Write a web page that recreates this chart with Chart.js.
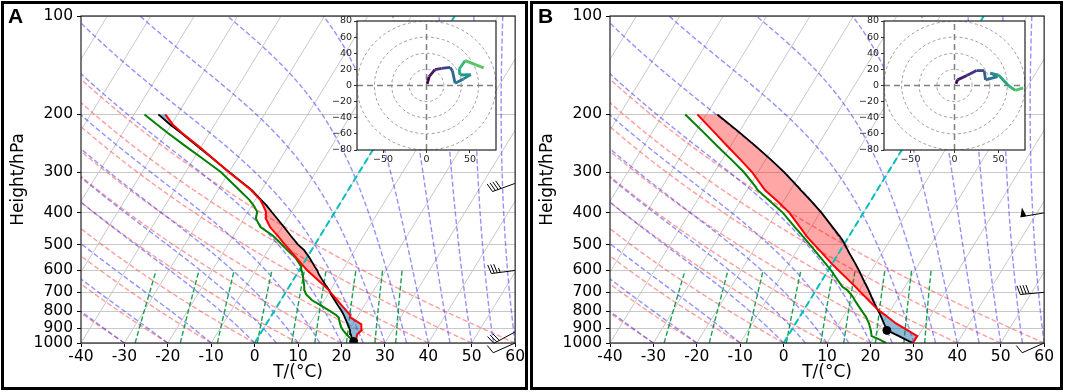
<!DOCTYPE html>
<html lang="en">
<head>
<meta charset="UTF-8">
<title>Skew-T log-P</title>
<style>
  body { margin: 0; background: #fff; }
  #wrap { position: relative; width: 1065px; height: 392px; overflow: hidden; }
  #wrap canvas { position: absolute; }
  .frame { position: absolute; top: 1px; height: 383px; border: 3px solid #000; pointer-events: none; }
  .tag { position: absolute; top: 5px; font: bold 21px/21px "Liberation Sans", Arial, sans-serif; color: #000; }
</style>
</head>
<body>
<div id="wrap">
  <canvas id="skewA" width="527" height="392" style="left:0;top:0"></canvas>
  <canvas id="skewB" width="527" height="392" style="left:529px;top:0"></canvas>
  <canvas id="hodoA" width="184" height="160" style="left:317px;top:10px"></canvas>
  <canvas id="hodoB" width="186" height="160" style="left:844px;top:10px"></canvas>
  <div class="frame" style="left:1px;width:521px"></div>
  <div class="frame" style="left:530px;width:527px"></div>
  <div class="tag" style="left:8px">A</div>
  <div class="tag" style="left:538px">B</div>
</div>

<script src="https://cdn.jsdelivr.net/npm/chart.js"></script>
<script>
// ---- sounding A (hPa, °C) ----
const presA = [1000, 970, 940, 915, 895, 877, 856, 836, 822, 800, 770, 740, 710, 689, 670, 640, 615, 600, 583, 550, 520, 500, 470, 442, 416, 397, 380, 365, 340, 300, 270, 250, 228, 215, 200];
const tempA = [23.4, 22.8, 22.4, 22.8, 22.4, 21.9, 20.2, 18.5, 18.1, 16.8, 14.9, 13.0, 11.0, 9.6, 8.1, 5.5, 3.3, 1.9, 0.5, -2.3, -5.0, -6.9, -9.8, -12.8, -15.0, -15.9, -17.4, -18.9, -22.5, -30.1, -36.2, -40.7, -46.3, -49.6, -52.8];
const dewA = [22.45, 21.5, 19.9, 18.6, 17.7, 17.1, 16.4, 15.8, 14.9, 13.0, 10.2, 7.2, 5.0, 4.0, 3.4, 2.3, 1.3, 0.6, -0.1, -2.5, -5.6, -7.6, -10.9, -15.0, -17.3, -17.9, -19.6, -21.4, -25.2, -31.9, -38.7, -43.7, -49.6, -53.2, -57.6];
const parcelA = [22.8, 21.8, 20.9, 20.2, 19.5, 18.8, 18.0, 17.2, 16.6, 15.6, 14.0, 12.4, 10.7, 9.7, 8.5, 6.6, 5.0, 4.2, 3.0, 0.7, -1.7, -3.9, -6.8, -9.6, -12.4, -14.6, -16.6, -18.7, -22.3, -30.0, -36.3, -41.0, -46.5, -50.2, -54.4];
const lclPresA = [990];
const lclTempA = [22.6];

// ---- sounding B ----
const presB = [1000, 975, 953, 915, 870, 830, 802, 785, 750, 720, 689, 673, 640, 598, 573, 530, 484, 471, 440, 400, 370, 341, 332, 300, 275, 251, 225, 200];
const tempB = [29.7, 29.75, 29.8, 26.8, 23.0, 20.1, 17.9, 16.6, 14.2, 12.1, 9.8, 8.6, 5.9, 2.25, -0.05, -3.9, -8.5, -9.8, -12.8, -17.0, -21.2, -25.8, -27.0, -31.4, -35.8, -40.5, -46.1, -52.1];
const dewB = [23.6, 21.5, 19.3, 18.3, 16.85, 15.2, 13.7, 12.8, 10.9, 9.3, 7.2, 5.6, 3.45, 0.55, -1.45, -5.1, -9.4, -10.7, -14.0, -18.5, -22.9, -27.5, -28.6, -33.3, -37.9, -42.8, -48.6, -54.9];
const parcelB = [29.7, 27.5, 25.6, 22.0, 20.3, 18.7, 17.5, 16.6, 15.0, 13.6, 12.1, 11.25, 9.4, 7.0, 5.4, 2.4, -1.0, -2.2, -5.3, -9.6, -13.4, -17.6, -18.9, -24.0, -28.8, -34.0, -40.4, -47.5];
const lclPresB = [915];
const lclTempB = [22.0];

// ---- wind barbs (knots) ----
const barbPresA = [1000, 925, 600, 325];
const barbUA = [9, 26, 35, 38];
const barbVA = [4, 14, 4.5, 13.7];
const barbPresB = [1000, 700, 400];
const barbUB = [9, 40, 50];
const barbVB = [4, 3.6, 8.5];

// ---- hodographs ----
const hodoUA = [0.8, 3, 9.7, 17.4, 27, 29.8, 32.9, 42.6, 51, 38.7, 37.6, 44.5, 65.8];
const hodoVA = [2.1, 11, 19.7, 21.3, 22.5, 18.5, 2.8, 8.2, 13.5, 13, 20.5, 30.8, 21.8];
const hodoUB = [1.6, 3.4, 14, 25, 33.7, 35.2, 48.8, 40.6, 50, 61, 69, 78];
const hodoVB = [2.1, 7, 12.3, 18.5, 18.5, 7, 11.1, 15.5, 13, 0, -6, -3];

// ---- axes / reference lines ----
const tempTicks = [-40, -30, -20, -10, 0, 10, 20, 30, 40, 50, 60];
const presTicks = [100, 200, 300, 400, 500, 600, 700, 800, 900, 1000];
const hodoTicksX = [-50, 0, 50];
const hodoTicksY = [-80, -60, -40, -20, 0, 20, 40, 60, 80];
const hodoRings = [20, 40, 60, 80];
const isoStart = [-80, -70, -60, -50, -40, -30, -20, -10, 0, 10, 20, 30, 40, 50, 60];
const dryStart = [-40, -30, -20, -10, 0, 10, 20, 30, 40, 50, 60];
const moistStart = [-40, -30, -20, -10, 0, 5, 10, 15, 20, 25, 30, 35, 40, 45, 50, 55, 60];
const mixRatios = [0.0004, 0.001, 0.002, 0.004, 0.007, 0.01, 0.016, 0.024, 0.032];

const RD = 287.04749, CP = 1004.6662, LV = 2.50084e6, EPS = 0.62196, KAPPA = RD / CP;
const SKEW = 46.1; // x shift (°C) per decade of pressure
const skew = (t, p) => t + SKEW * Math.log10(1000 / p);
const pt = (t, p) => ({ x: skew(t, p), y: p });

function satVap(tc) { return 6.112 * Math.exp(17.67 * tc / (tc + 243.5)); }

function dryAdiabat(t0) {
  const pts = [];
  for (let p = 1000; p >= 100; p -= 10) pts.push(pt((t0 + 273.15) * Math.pow(p / 1000, KAPPA) - 273.15, p));
  return pts;
}
function moistGrad(tk, p) {
  const es = satVap(tk - 273.15);
  const rs = EPS * es / (p - es);
  return (RD * tk + LV * rs) / (CP + LV * LV * rs * EPS / (RD * tk * tk)) / p;
}
function moistAdiabat(t0) {
  const pts = [], h = -5;
  let tk = t0 + 273.15;
  for (let p = 1000; p >= 100; p += h) {
    pts.push(pt(tk - 273.15, p));
    const k1 = moistGrad(tk, p), k2 = moistGrad(tk + h * k1 / 2, p + h / 2);
    const k3 = moistGrad(tk + h * k2 / 2, p + h / 2), k4 = moistGrad(tk + h * k3, p + h);
    tk += h * (k1 + 2 * k2 + 2 * k3 + k4) / 6;
  }
  return pts;
}
function mixingLine(w) {
  const pts = [];
  for (let p = 1000; p >= 600; p -= 20) {
    const l = Math.log(w * p / (EPS + w) / 6.112);
    pts.push(pt(243.5 * l / (17.67 - l), p));
  }
  return pts;
}

function line(data, color, width, dash, order) {
  return { data, showLine: true, borderColor: color, borderWidth: width, borderDash: dash, pointRadius: 0, fill: false, order };
}

// CAPE / CIN polygons between parcel and environment
function shadeSets(pres, temp, parcel) {
  const out = [];
  let up = [], down = [], sign = 0;
  const close = () => { if (up.length > 1) out.push({ sign, data: up.concat(down.slice().reverse()) }); };
  for (let i = 0; i < pres.length; i++) {
    const d = parcel[i] - temp[i];
    if (i > 0) {
      const d0 = parcel[i - 1] - temp[i - 1];
      if (d0 * d < 0) {
        const f = d0 / (d0 - d);
        const pc = Math.exp(Math.log(pres[i - 1]) + f * (Math.log(pres[i]) - Math.log(pres[i - 1])));
        const tc = temp[i - 1] + f * (temp[i] - temp[i - 1]);
        up.push(pt(tc, pc)); down.push(pt(tc, pc));
        close();
        up = [pt(tc, pc)]; down = [pt(tc, pc)];
      }
    }
    if (d !== 0) sign = d > 0 ? 1 : -1;
    up.push(pt(parcel[i], pres[i])); down.push(pt(temp[i], pres[i]));
    if (d === 0 && i > 0) { close(); up = [pt(temp[i], pres[i])]; down = [pt(temp[i], pres[i])]; }
  }
  close();
  return out;
}

function skewDatasets(pres, temp, dew, parcel, lclP, lclT) {
  const ds = [];
  ds.push({ data: lclP.map((p, i) => pt(lclT[i], p)), pointRadius: 4, pointBackgroundColor: '#000', pointBorderColor: '#000', order: 0 });
  ds.push(line(pres.map((p, i) => pt(temp[i], p)), '#ff0000', 2, [], 1));
  ds.push(line(pres.map((p, i) => pt(dew[i], p)), '#008000', 2, [], 1));
  ds.push(line(pres.map((p, i) => pt(parcel[i], p)), '#000000', 1.8, [], 1));
  shadeSets(pres, temp, parcel).forEach(s => ds.push({
    data: s.data, showLine: true, pointRadius: 0, borderWidth: 0, fill: 'shape',
    backgroundColor: s.sign > 0 ? 'rgba(255,0,0,0.35)' : 'rgba(31,119,180,0.5)', order: 4
  }));
  ds.push(line([pt(0, 1000), pt(0, 100)], '#00bfbf', 2, [7, 3.5], 3));
  mixRatios.forEach(w => ds.push(line(mixingLine(w), 'rgba(0,150,60,0.9)', 1.4, [5, 2.5], 6)));
  moistStart.forEach(t => ds.push(line(moistAdiabat(t), 'rgba(40,40,255,0.5)', 1.4, [5, 2.5], 7)));
  dryStart.forEach(t => ds.push(line(dryAdiabat(t), 'rgba(255,40,40,0.45)', 1.4, [5, 2.5], 8)));
  isoStart.forEach(t => ds.push(line([pt(t, 1000), pt(t, 100)], '#c8c8c8', 1, [], 9)));
  return ds;
}

const framePlugin = {
  id: 'frame',
  afterDraw(chart) {
    const { ctx, chartArea: a } = chart;
    ctx.save();
    ctx.strokeStyle = '#222';
    ctx.lineWidth = 1.2;
    ctx.strokeRect(a.left, a.top, a.right - a.left, a.bottom - a.top);
    ctx.restore();
  }
};

const barbPlugin = {
  id: 'barbs',
  afterDatasetsDraw(chart, args, o) {
    const { ctx, chartArea, scales } = chart;
    ctx.save();
    ctx.strokeStyle = '#000'; ctx.fillStyle = '#000'; ctx.lineWidth = 1;
    o.pres.forEach((p, i) => {
      const u = o.u[i], v = o.v[i], spd = Math.hypot(u, v);
      const x0 = chartArea.right, y0 = scales.y.getPixelForValue(p);
      const dx = -u / spd, dy = v / spd, nx = -dy, ny = dx;
      const L = 24, F = 9;
      const at = s => [x0 + dx * (L - s), y0 + dy * (L - s)];
      const tip = at(0);
      ctx.beginPath(); ctx.moveTo(x0, y0); ctx.lineTo(tip[0], tip[1]); ctx.stroke();
      let k = Math.round(spd / 5) * 5, pos = 0;
      const flags = Math.floor(k / 50); k -= flags * 50;
      const full = Math.floor(k / 10); k -= full * 10;
      for (let j = 0; j < flags; j++) {
        const a = at(pos), b = at(pos + 6);
        ctx.beginPath(); ctx.moveTo(a[0], a[1]);
        ctx.lineTo((a[0] + b[0]) / 2 + nx * F, (a[1] + b[1]) / 2 + ny * F);
        ctx.lineTo(b[0], b[1]); ctx.closePath(); ctx.fill();
        pos += 7;
      }
      for (let j = 0; j < full; j++) {
        const a = at(pos);
        ctx.beginPath(); ctx.moveTo(a[0], a[1]); ctx.lineTo(a[0] + nx * F + dx * 2.5, a[1] + ny * F + dy * 2.5); ctx.stroke();
        pos += 3;
      }
      if (k >= 5) {
        if (flags + full === 0) pos += 3;
        const a = at(pos);
        ctx.beginPath(); ctx.moveTo(a[0], a[1]); ctx.lineTo(a[0] + nx * F / 2 + dx * 1.2, a[1] + ny * F / 2 + dy * 1.2); ctx.stroke();
      }
    });
    ctx.restore();
  }
};

const tickFont = { family: 'DejaVu Sans', size: 15.5, lineHeight: 1 };
const titleFont = { family: 'DejaVu Sans', size: 17 };

function skewChart(id, datasets, barbs) {
  return new Chart(document.getElementById(id), {
    type: 'scatter',
    data: { datasets },
    options: {
      responsive: false,
      animation: false,
      layout: { padding: { top: 16, right: 10, bottom: 0, left: 0 } },
      plugins: { legend: { display: false }, tooltip: { enabled: false }, barbs },
      scales: {
        x: {
          type: 'linear', min: -40, max: 60,
          afterBuildTicks: s => { s.ticks = tempTicks.map(v => ({ value: v })); },
          afterFit: s => { s.height = 49; },
          grid: { drawOnChartArea: false, tickLength: 4, tickColor: '#000' },
          border: { display: false },
          ticks: { font: tickFont, color: '#000', padding: 2, maxRotation: 0, autoSkip: false, callback: v => String(v) },
          title: { display: true, text: 'T/(°C)', font: titleFont, color: '#000', padding: { top: 0, bottom: 9 } }
        },
        y: {
          type: 'logarithmic', reverse: true, min: 100, max: 1000,
          afterBuildTicks: s => { s.ticks = presTicks.map(v => ({ value: v })); },
          afterFit: s => { s.width = 81; },
          grid: { color: '#c8c8c8', lineWidth: 1, tickLength: 4, tickColor: '#000' },
          border: { display: false },
          ticks: { font: tickFont, color: '#000', padding: 4, autoSkip: false, callback: v => String(v) },
          title: { display: true, text: 'Height/hPa', font: titleFont, color: '#000', padding: { top: 8, bottom: 0 } }
        }
      }
    },
    plugins: [barbPlugin, framePlugin]
  });
}

const VIRIDIS = ['#440154', '#482878', '#3e4a89', '#31688e', '#26828e', '#1f9e89', '#35b779', '#6ece58', '#b5de2b', '#fde725'];
const hexRgb = h => [1, 3, 5].map(i => parseInt(h.slice(i, i + 2), 16));
function viridis(t) {
  const f = Math.min(Math.max(t, 0), 1) * (VIRIDIS.length - 1);
  const i = Math.min(Math.floor(f), VIRIDIS.length - 2), r = f - i;
  const a = hexRgb(VIRIDIS[i]), b = hexRgb(VIRIDIS[i + 1]);
  return 'rgb(' + a.map((c, k) => Math.round(c + (b[k] - c) * r)).join(',') + ')';
}

const whiteBg = {
  id: 'whiteBg',
  beforeDraw(chart) {
    const { ctx, chartArea: a } = chart;
    ctx.save(); ctx.fillStyle = '#fff';
    ctx.fillRect(a.left, a.top, a.right - a.left, a.bottom - a.top);
    ctx.restore();
  }
};

function ring(r) {
  const pts = [];
  for (let d = 0; d <= 360; d += 4) pts.push({ x: r * Math.cos(d * Math.PI / 180), y: r * Math.sin(d * Math.PI / 180) });
  return pts;
}
const fmtMinus = v => (v < 0 ? '\u2212' + Math.abs(v) : String(v));
const hodoFont = { family: 'DejaVu Sans', size: 9.5, lineHeight: 1 };

function hodoChart(id, us, vs) {
  const n = us.length;
  const datasets = [
    { data: us.map((u, i) => ({ x: u, y: vs[i] })), showLine: true, pointRadius: 0, borderWidth: 2.8,
      segment: { borderColor: c => viridis(c.p0DataIndex / (n - 1) * 0.8) }, order: 0 },
    line([{ x: -80, y: 0 }, { x: 80, y: 0 }], '#808080', 1.5, [6, 4], 1),
    line([{ x: 0, y: -80 }, { x: 0, y: 80 }], '#808080', 1.5, [6, 4], 1)
  ];
  hodoRings.forEach(r => datasets.push(line(ring(r), '#a0a0a0', 1, [3, 2.5], 2)));
  return new Chart(document.getElementById(id), {
    type: 'scatter',
    data: { datasets },
    options: {
      responsive: false,
      animation: false,
      layout: { padding: { top: 11, right: 5, bottom: 0, left: 0 } },
      plugins: { legend: { display: false }, tooltip: { enabled: false } },
      scales: {
        x: {
          min: -80, max: 80,
          afterBuildTicks: s => { s.ticks = hodoTicksX.map(v => ({ value: v })); },
          afterFit: s => { s.height = 20; },
          grid: { drawOnChartArea: false, tickLength: 3, tickColor: '#333' },
          border: { display: false },
          ticks: { font: hodoFont, color: '#222', padding: 2, maxRotation: 0, autoSkip: false, callback: fmtMinus }
        },
        y: {
          min: -80, max: 80,
          afterBuildTicks: s => { s.ticks = hodoTicksY.map(v => ({ value: v })); },
          afterFit: s => { s.width = 40; },
          grid: { drawOnChartArea: false, tickLength: 3, tickColor: '#333' },
          border: { display: false },
          ticks: { font: hodoFont, color: '#222', padding: 2, autoSkip: false, callback: fmtMinus }
        }
      }
    },
    plugins: [whiteBg, framePlugin]
  });
}

skewChart('skewA', skewDatasets(presA, tempA, dewA, parcelA, lclPresA, lclTempA), { pres: barbPresA, u: barbUA, v: barbVA });
skewChart('skewB', skewDatasets(presB, tempB, dewB, parcelB, lclPresB, lclTempB), { pres: barbPresB, u: barbUB, v: barbVB });
hodoChart('hodoA', hodoUA, hodoVA);
hodoChart('hodoB', hodoUB, hodoVB);
</script>
</body>
</html>
